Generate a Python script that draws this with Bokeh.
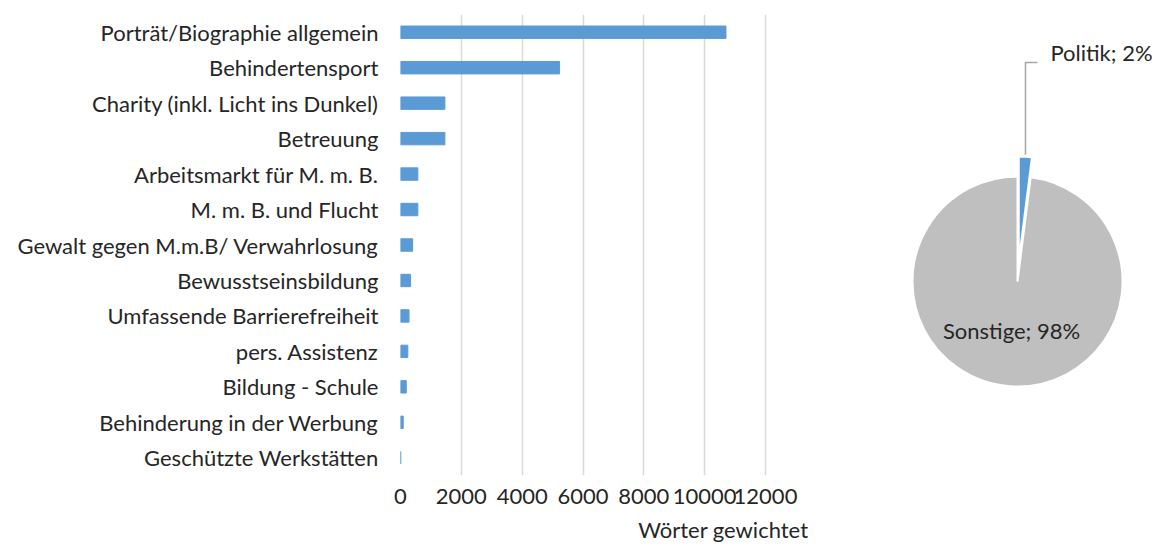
import math
from bokeh.plotting import figure
from bokeh.models import ColumnDataSource, FixedTicker, Range1d, Title
from bokeh.layouts import row
from bokeh.embed import file_html
from bokeh.resources import INLINE
from bokeh.core.properties import value

# ---------------- data ----------------
categories = [
    "Porträt/Biographie allgemein",
    "Behindertensport",
    "Charity (inkl. Licht ins Dunkel)",
    "Betreuung",
    "Arbeitsmarkt für M. m. B.",
    "M. m. B. und Flucht",
    "Gewalt gegen M.m.B/ Verwahrlosung",
    "Bewusstseinsbildung",
    "Umfassende Barrierefreiheit",
    "pers. Assistenz",
    "Bildung - Schule",
    "Behinderung in der Werbung",
    "Geschützte Werkstätten",
]
words_weighted = [10700, 5230, 1460, 1460, 570, 570, 400, 330, 280, 240, 190, 90, 10]
x_ticks = [0, 2000, 4000, 6000, 8000, 10000, 12000]
x_title = "Wörter gewichtet"

pie_labels = ["Politik", "Sonstige"]
pie_values = [2, 98]

FONT = "Lato"
FS = "22px"
TXT = "#262626"
BLUE = "#5b9bd5"
GREY = "#bfbfbf"

H = 550
TOP, BOTTOM = 14, 75

# ---------------- bar chart ----------------
n = len(categories)
ypos = [n - 1 - i for i in range(n)]
src = ColumnDataSource(dict(y=ypos, v=words_weighted, cat=categories))

W1 = 812
p = figure(width=W1, height=H, output_backend="svg", toolbar_location=None,
           x_range=Range1d(0, 13545), y_range=Range1d(-0.5, n - 0.5),
           min_border_left=400, min_border_right=0, min_border_top=TOP,
           min_border_bottom=BOTTOM)
p.outline_line_color = None
p.hbar(y="y", right="v", left=0, height=0.35, source=src, color=BLUE)

p.xaxis.ticker = FixedTicker(ticks=x_ticks)
p.xaxis.axis_line_color = None
p.xaxis.major_tick_line_color = None
p.xaxis.minor_tick_line_color = None
p.xaxis.major_label_text_font = FONT
p.xaxis.major_label_text_font_size = FS
p.xaxis.major_label_text_color = TXT
p.xaxis.major_label_standoff = 7

p.add_layout(Title(text=x_title, align="right", offset=4, standoff=15,
                   text_font=FONT, text_font_size=FS,
                   text_font_style="normal", text_color=TXT), "below")

p.yaxis.ticker = FixedTicker(ticks=ypos)
p.yaxis.major_label_overrides = {y: c for y, c in zip(ypos, categories)}
p.yaxis.axis_line_color = None
p.yaxis.major_tick_line_color = None
p.yaxis.minor_tick_line_color = None
p.yaxis.major_label_text_font = FONT
p.yaxis.major_label_text_font_size = FS
p.yaxis.major_label_text_color = TXT
p.yaxis.major_label_standoff = 16

p.xgrid.ticker = FixedTicker(ticks=x_ticks)
p.xgrid.grid_line_color = "#d9d9d9"
p.xgrid.grid_line_width = 1.5
p.ygrid.grid_line_color = None

# ---------------- pie chart ----------------
W2 = 1157 - W1
FH = H - TOP - BOTTOM
q = figure(width=W2, height=H, output_backend="svg", toolbar_location=None,
           x_range=Range1d(0, W2), y_range=Range1d(0, FH),
           min_border_left=0, min_border_right=0, min_border_top=TOP,
           min_border_bottom=BOTTOM)
q.outline_line_color = None
q.axis.visible = False
q.grid.visible = False

cx, cy, r = 205, 194, 105
explode = 20
total = sum(pie_values)
colors = [BLUE, GREY]
starts, ends, xs, ys, cols = [], [], [], [], []
a0 = math.pi / 2  # first slice goes clockwise from 12 o'clock
for i, v in enumerate(pie_values):
    a1 = a0 - v / total * 2 * math.pi
    starts.append(a1)
    ends.append(a0)
    off = explode if i == 0 else 0
    mid = (a0 + a1) / 2
    xs.append(cx + off * math.cos(mid))
    ys.append(cy + off * math.sin(mid))
    cols.append(colors[i])
    a0 = a1

psrc = ColumnDataSource(dict(x=xs, y=ys, s=starts, e=ends, c=cols))
q.wedge(x="x", y="y", radius=r, start_angle="s", end_angle="e",
        fill_color="c", line_color="white", line_width=2, source=psrc)

# leader line for Politik
mid0 = (starts[0] + ends[0]) / 2
lx0 = xs[0] + (r + 2) * math.cos(mid0)
ly0 = ys[0] + (r + 2) * math.sin(mid0)
elbow_y = 413
q.line(x=[lx0, lx0, lx0 + 12], y=[ly0, elbow_y, elbow_y], line_color="#a6a6a6",
       line_width=1.5)
q.text(x=[lx0 + 25], y=[elbow_y + 10],
       text=[f"{pie_labels[0]}; {pie_values[0]}%"], text_font=value(FONT),
       text_font_size=FS, text_color=TXT, text_align="left",
       text_baseline="middle")
q.text(x=[cx - 6], y=[cy - 49],
       text=[f"{pie_labels[1]}; {pie_values[1]}%"], text_font=value(FONT),
       text_font_size=FS, text_color=TXT, text_align="center",
       text_baseline="middle")

layout = row(p, q)
open("out.html", "w").write(file_html(layout, INLINE))
